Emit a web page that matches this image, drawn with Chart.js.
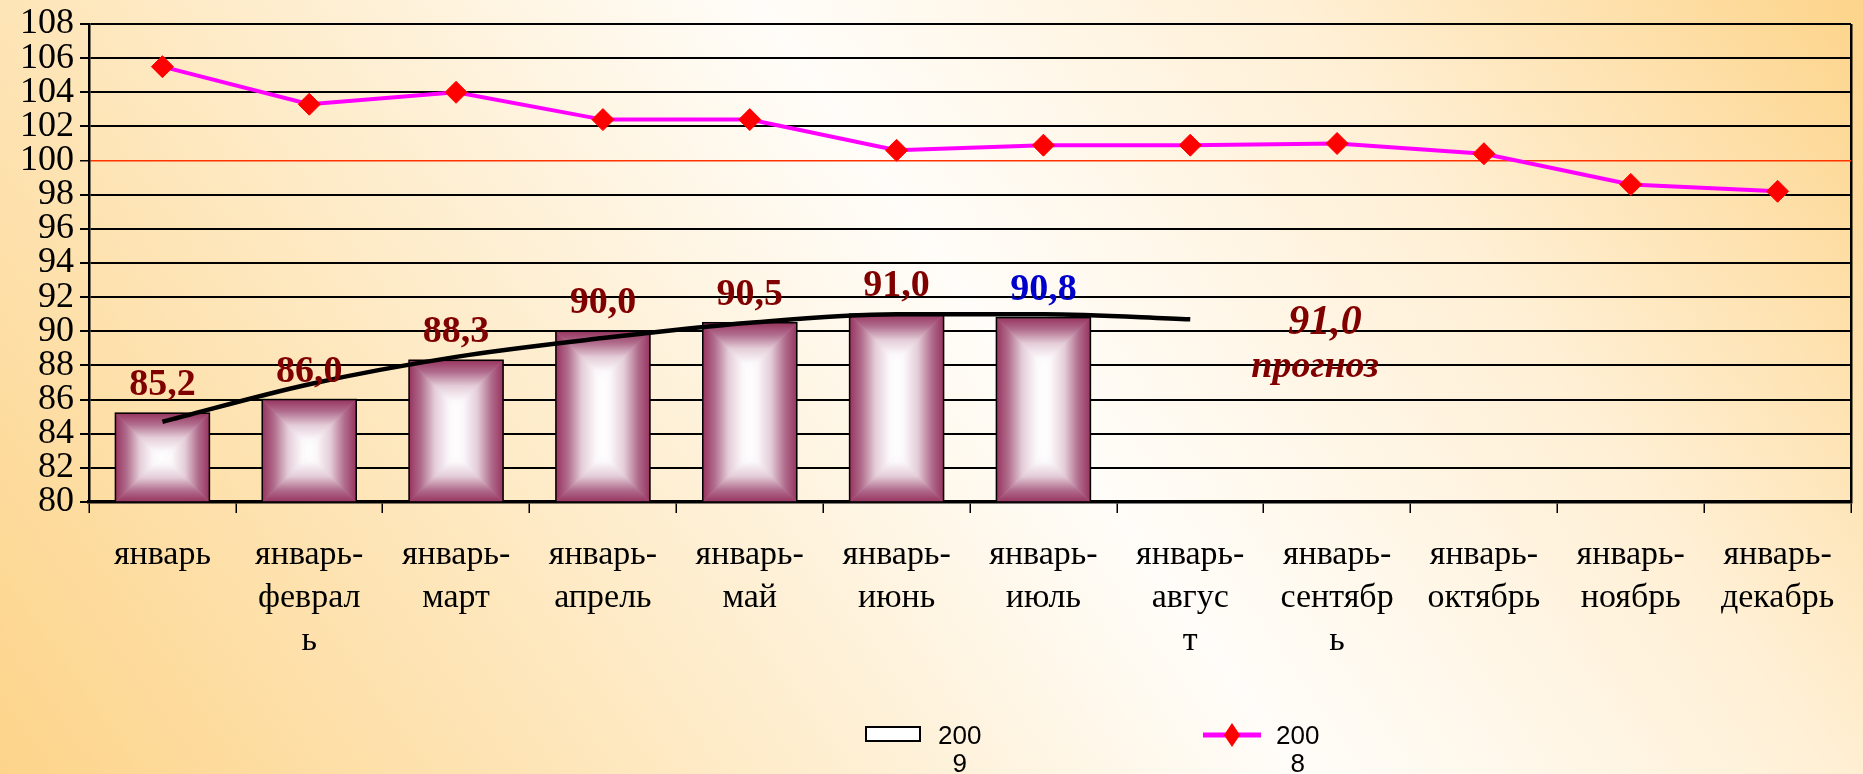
<!DOCTYPE html>
<html>
<head>
<meta charset="utf-8">
<script src="https://cdn.jsdelivr.net/npm/chart.js@4.4.1/dist/chart.umd.min.js"></script>
<style>
    html, body { margin: 0; padding: 0; }
    body {
        width: 1863px; height: 774px; overflow: hidden;
        background: linear-gradient(55deg, #fdd48a 0%, #fee9c2 28%, #fffdf9 54%, #fff0d6 76%, #fdd48a 100%);
    }
    #wrap { position: relative; width: 1863px; height: 774px; }
    .leg-txt {
        position: absolute; font: 26px 'Liberation Sans', Arial, sans-serif;
        line-height: 28px; text-align: center; color: #000;
    }
    .leg-sw { position: absolute; }
</style>
</head>
<body>
<div id="wrap">
    <canvas id="grafico"></canvas>
    <svg class="leg-sw" style="left:865px; top:726px" width="56" height="16">
        <rect x="1" y="1" width="54" height="14" fill="#fff" stroke="#000" stroke-width="2"/>
    </svg>
    <div class="leg-txt" style="left:938px; top:721px">200<br>9</div>
    <svg class="leg-sw" style="left:1203px; top:721px" width="58" height="28">
        <line x1="0" y1="14" x2="58" y2="14" stroke="#ff00ff" stroke-width="5"/>
        <polygon points="29,2 37,14 29,26 21,14" fill="#ff0000"/>
    </svg>
    <div class="leg-txt" style="left:1276px; top:721px">200<br>8</div>
</div>
<script>
// dados
const categorias = [
    ['январь'],
    ['январь-', 'феврал', 'ь'],
    ['январь-', 'март'],
    ['январь-', 'апрель'],
    ['январь-', 'май'],
    ['январь-', 'июнь'],
    ['январь-', 'июль'],
    ['январь-', 'авгус', 'т'],
    ['январь-', 'сентябр', 'ь'],
    ['январь-', 'октябрь'],
    ['январь-', 'ноябрь'],
    ['январь-', 'декабрь']
];
const valores2009 = [85.2, 86.0, 88.3, 90.0, 90.5, 91.0, 90.8, null, null, null, null, null];
const valores2008 = [105.5, 103.3, 104.0, 102.4, 102.4, 100.6, 100.9, 100.9, 101.0, 100.4, 98.6, 98.2];
const tendencia = [84.7, 86.9, 88.5, 89.6, 90.5, 91.0, 91.0, 90.7, null, null, null, null];
const coresRotulos = ['#800000', '#800000', '#800000', '#800000', '#800000', '#800000', '#0000cc'];
const textoPrognoz = ['91,0', 'прогноз'];
const eixoY = { min: 80, max: 108, passo: 2, linhaVermelha: 100 };

Chart.defaults.font.family = "'Liberation Serif', 'Times New Roman', serif";
Chart.defaults.color = '#000';

// barra com degradê "do centro" (quatro faces)
function desenharBarra(ctx, x0, y0, x1, y1) {
    const d = Math.min(x1 - x0, y1 - y0) / 2;
    const faces = [
        [[x0, y0], [x1, y0], [x1 - d, y0 + d], [x0 + d, y0 + d], [x0, y0, x0, y0 + d]],
        [[x0, y1], [x1, y1], [x1 - d, y1 - d], [x0 + d, y1 - d], [x0, y1, x0, y1 - d]],
        [[x0, y0], [x0 + d, y0 + d], [x0 + d, y1 - d], [x0, y1], [x0, y0, x0 + d, y0]],
        [[x1, y0], [x1 - d, y0 + d], [x1 - d, y1 - d], [x1, y1], [x1, y0, x1 - d, y0]]
    ];
    ctx.save();
    ctx.fillStyle = '#d9b8c8';
    ctx.fillRect(x0, y0, x1 - x0, y1 - y0);
    faces.forEach(function (f) {
        const g = ctx.createLinearGradient(f[4][0], f[4][1], f[4][2], f[4][3]);
        g.addColorStop(0, '#98345f');
        g.addColorStop(0.25, '#b06c8c');
        g.addColorStop(0.55, '#e4cdd8');
        g.addColorStop(0.85, '#fbf8fa');
        g.addColorStop(1, '#ffffff');
        ctx.fillStyle = g;
        ctx.beginPath();
        ctx.moveTo(f[0][0], f[0][1]);
        ctx.lineTo(f[1][0], f[1][1]);
        ctx.lineTo(f[2][0], f[2][1]);
        ctx.lineTo(f[3][0], f[3][1]);
        ctx.closePath();
        ctx.fill();
        ctx.strokeStyle = g;
        ctx.lineWidth = 0.6;
        ctx.stroke();
    });
    ctx.strokeStyle = '#000';
    ctx.lineWidth = 1.5;
    ctx.strokeRect(x0, y0, x1 - x0, y1 - y0);
    ctx.restore();
}

const pluginBarras = {
    id: 'barrasDegrade',
    afterDatasetDraw(chart, args) {
        if (args.index !== 0) return;
        const ctx = chart.ctx;
        const fundo = chart.chartArea.bottom;
        args.meta.data.forEach(function (bar, i) {
            if (valores2009[i] == null) return;
            const p = bar.getProps(['x', 'y', 'base', 'width'], true);
            desenharBarra(ctx, p.x - p.width / 2, p.y, p.x + p.width / 2, Math.min(p.base, fundo));
        });
    }
};

const pluginRotulos = {
    id: 'rotulos',
    afterDatasetsDraw(chart) {
        const ctx = chart.ctx;
        const meta = chart.getDatasetMeta(0);
        ctx.save();
        ctx.font = "bold 38px 'Liberation Serif', serif";
        ctx.textAlign = 'center';
        ctx.textBaseline = 'alphabetic';
        meta.data.forEach(function (bar, i) {
            if (valores2009[i] == null) return;
            ctx.fillStyle = coresRotulos[i];
            ctx.fillText(valores2009[i].toFixed(1).replace('.', ','), bar.x, bar.y - 18);
        });
        // prognóstico
        const xs = chart.scales.x, ys = chart.scales.y;
        const passo = xs.getPixelForValue(8) - xs.getPixelForValue(7);
        const px = xs.getPixelForValue(8) - passo * 0.15;
        ctx.fillStyle = '#800000';
        ctx.textBaseline = 'middle';
        ctx.font = "italic bold 42px 'Liberation Serif', serif";
        ctx.fillText(textoPrognoz[0], px + 10, ys.getPixelForValue(90.5));
        ctx.font = "italic bold 38px 'Liberation Serif', serif";
        ctx.fillText(textoPrognoz[1], px, ys.getPixelForValue(87.9));
        ctx.restore();
    }
};

new Chart(document.getElementById('grafico'), {
    type: 'bar',
    data: {
        labels: categorias,
        datasets: [
            {
                label: '2009',
                data: valores2009,
                backgroundColor: 'transparent',
                borderWidth: 0,
                barPercentage: 0.64,
                categoryPercentage: 1,
                order: 3
            },
            {
                type: 'line',
                label: 'тренд',
                data: tendencia,
                borderColor: '#000',
                borderWidth: 4.5,
                pointRadius: 0,
                tension: 0.4,
                cubicInterpolationMode: 'monotone',
                order: 2
            },
            {
                type: 'line',
                label: '2008',
                data: valores2008,
                borderColor: '#ff00ff',
                borderWidth: 4,
                pointStyle: 'rectRot',
                pointRadius: 11,
                pointBackgroundColor: '#ff0000',
                pointBorderColor: '#ff0000',
                pointBorderWidth: 1,
                tension: 0,
                order: 1
            }
        ]
    },
    options: {
        responsive: true,
        maintainAspectRatio: false,
        animation: false,
        layout: { padding: { left: 14, right: 6, top: 0, bottom: 90 } },
        plugins: {
            legend: { display: false },
            tooltip: { enabled: false }
        },
        scales: {
            x: {
                offset: true,
                grid: {
                    offset: true,
                    drawOnChartArea: true,
                    color: ctx => ctx.type === 'scale' ? '#000' : 'transparent',
                    lineWidth: 2.5,
                    tickColor: '#000',
                    tickLength: 11,
                    tickWidth: 1.5
                },
                border: { color: '#000', width: 3.5 },
                ticks: {
                    autoSkip: false,
                    maxRotation: 0,
                    padding: 21,
                    font: { size: 34, lineHeight: 1.265 },
                    color: '#000'
                }
            },
            y: {
                min: eixoY.min,
                max: eixoY.max,
                ticks: {
                    stepSize: eixoY.passo,
                    autoSkip: false,
                    padding: 6,
                    font: { size: 36, lineHeight: 1 },
                    color: '#000'
                },
                grid: {
                    color: ctx => ctx.tick && ctx.tick.value === eixoY.linhaVermelha ? '#ff3300' : '#000',
                    lineWidth: ctx => ctx.tick && ctx.tick.value === eixoY.linhaVermelha ? 1.5 : 2,
                    tickColor: '#000',
                    tickLength: 9
                },
                border: { color: '#000', width: 2.5 }
            }
        }
    },
    plugins: [pluginBarras, pluginRotulos]
});
</script>
</body>
</html>
